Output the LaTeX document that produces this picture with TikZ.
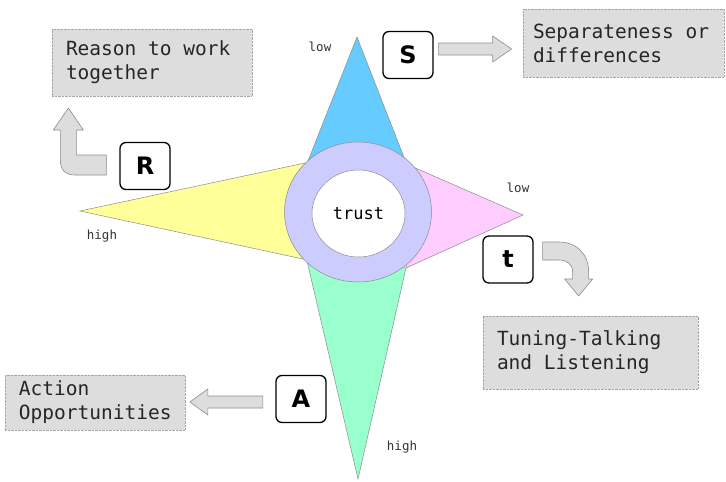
\documentclass[tikz,border=0pt]{standalone}
\usepackage{fontspec}
\setmainfont{DejaVu Sans}
\newfontfamily\monofont{DejaVu Sans Mono}
\usepackage{xcolor}
\usepackage{tikz}
\usetikzlibrary{positioning,shapes.geometric,calc}

\definecolor{ptblue}{HTML}{66CCFF}
\definecolor{ptyellow}{HTML}{FFFF99}
\definecolor{ptpink}{HTML}{FFCCFF}
\definecolor{ptgreen}{HTML}{99FFCC}
\definecolor{ringlav}{HTML}{CCCCFF}
\definecolor{notegrey}{HTML}{DDDDDD}

\begin{document}
\begin{tikzpicture}[x=1pt, y=-1pt,
  note/.style={draw=black!35, densely dotted, fill=notegrey, align=left, inner xsep=14pt, inner ysep=0pt, text=black!85,
    font=\monofont\fontsize{19.5}{24}\selectfont,
    execute at begin node={\spaceskip=0.602em\relax}},
  key/.style={draw, line width=1.3pt, rounded corners=6pt, fill=white, minimum width=50pt, minimum height=47pt, font=\fontsize{24}{28}\selectfont\bfseries},
  lvl/.style={font=\monofont\fontsize{12.5}{14}\selectfont, text=black!80},
  point/.style={draw=black!45, line width=0.5pt},
  blk/.style={draw=black!45, fill=notegrey, line width=0.6pt, line join=round}
]
\useasboundingbox (0,0) rectangle (726,482);

% Compass points
\draw[point, fill=ptblue]   (357,37)  -- (308,161) -- (407,165) -- cycle;
\draw[point, fill=ptyellow] (80,211)  -- (305,163) -- (303,259) -- cycle;
\draw[point, fill=ptpink]   (523,215) -- (413,167) -- (406,268) -- cycle;
\draw[point, fill=ptgreen]  (358,479) -- (307,261) -- (406,268) -- cycle;

% Trust ring
\draw[point, fill=ringlav] (358,212) ellipse [x radius=73.5, y radius=70];
\node[point, ellipse, fill=white, minimum width=93pt, minimum height=87pt,
      font=\monofont\fontsize{17}{20}\selectfont] (trust) at (358.5,213.5) {trust};

% Level labels
\node[lvl] (lowS)  at (320,47)  {low};
\node[lvl] (highR) at (102,236) {high};
\node[lvl] (lowT)  at (518,188) {low};
\node[lvl] (highA) at (402,447) {high};

% Letter keys
\node[key] (R) at (145,166)   {R};
\node[key] (S) at (408,55)    {S};
\node[key] (T) at (508,259.5) {t};
\node[key] (A) at (301,399)   {A};

% Notes
\node[note, text width=172pt, minimum height=67pt] (reason) at (152,62.5)  {Reason to work\\together};
\node[note, inner xsep=10pt, text width=181pt, minimum height=68pt] (separ) at (623.5,43) {Separateness or\\differences};
\node[note, text width=187pt, minimum height=73pt] (tuning) at (590.5,352.5) {Tuning-Talking\\and Listening};
\node[note, text width=152pt, minimum height=55pt] (action) at (95,402.5)  {Action\\Opportunities};

% Block arrows
\draw[blk] ([shift={(5,-12)}]S.east) -- ++(54,0) -- ++(0,-7) -- ++(19,13) -- ++(-19,13) -- ++(0,-7) -- ++(-54,0) -- cycle;
\draw[blk] ([shift={(-12.5,-3)}]A.west) -- ++(-55,0) -- ++(0,-7) -- ++(-18,13) -- ++(18,13) -- ++(0,-7) -- ++(55,0) -- cycle;
\draw[blk] ([shift={(-13,-11)}]R.west) -- ++(-30,0) -- ++(0,-25) -- ++(7,0) -- ++(-15,-22) -- ++(-15,22) -- ++(7,0) -- ++(0,30)
  .. controls +(0,10) and +(-10,0) .. ++(15,15) -- ++(31,0) -- cycle;
\draw[blk] ([shift={(9,-17.5)}]T.east) -- ++(16,0) .. controls +(18,0) and +(0,-18) .. ++(30,30) -- ++(0,7) -- ++(4,0)
  -- ++(-14,17) -- ++(-14,-17) -- ++(8,0) -- ++(0,-7) .. controls +(0,-8) and +(8,0) .. ++(-14,-12) -- ++(-16,0) -- cycle;

\end{tikzpicture}
\end{document}
